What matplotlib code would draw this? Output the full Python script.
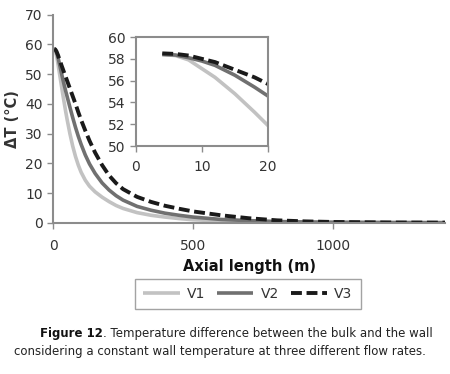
import matplotlib
matplotlib.use("Agg")
import matplotlib.pyplot as plt

# data
axial = [4, 6, 8, 10, 12, 15, 18, 20, 25, 30, 35, 40, 45, 50, 60, 70, 80, 90, 100,
         115, 130, 150, 175, 200, 225, 250, 300, 350, 400, 450, 500, 600, 700, 800,
         900, 1000, 1200, 1400]
v1 = [58.4, 58.3, 57.9, 57.1, 56.3, 54.8, 53.1, 51.9, 49.0, 46.0, 43.0, 40.2, 37.4,
      34.8, 30.0, 25.8, 22.3, 19.4, 17.0, 14.3, 12.3, 10.4, 8.6, 7.1, 5.8, 4.8, 3.4,
      2.5, 1.9, 1.4, 1.0, 0.6, 0.35, 0.2, 0.12, 0.08, 0.03, 0.01]
v2 = [58.4, 58.35, 58.1, 57.8, 57.4, 56.5, 55.4, 54.6, 52.5, 50.3, 48.2, 46.2, 44.3,
      42.5, 38.9, 35.4, 32.1, 29.1, 26.4, 22.8, 19.8, 16.6, 13.4, 11.0, 9.1, 7.6, 5.5,
      4.2, 3.2, 2.5, 1.9, 1.1, 0.7, 0.4, 0.25, 0.15, 0.06, 0.02]
v3 = [58.5, 58.45, 58.3, 58.0, 57.7, 57.0, 56.3, 55.7, 54.4, 53.0, 51.7, 50.4, 49.1,
      47.8, 45.2, 42.6, 40.0, 37.2, 34.6, 31.0, 27.6, 23.6, 19.4, 15.9, 13.3, 11.3, 8.7,
      7.0, 5.7, 4.7, 3.8, 2.5, 1.5, 0.8, 0.45, 0.25, 0.08, 0.03]
series_names = ["V1", "V2", "V3"]

main_xticks = [0, 500, 1000]
main_yticks = [0, 10, 20, 30, 40, 50, 60, 70]
inset_xticks = [0, 10, 20]
inset_yticks = [50, 52, 54, 56, 58, 60]

caption_bold = "Figure 12"
caption_rest = ". Temperature difference between the bulk and the wall"
caption_line2 = "considering a constant wall temperature at three different flow rates."

spine_col = "#8c8c8c"
text_col = "#333333"
styles = [dict(color="#c2c2c2", lw=2.6),
          dict(color="#707070", lw=2.6),
          dict(color="#1a1a1a", lw=2.8, dashes=(2.8, 1.2), dash_capstyle="butt")]

plt.rcParams["font.family"] = "DejaVu Sans"

fig = plt.figure(figsize=(4.5, 3.74), dpi=100)

# main plot
ax = fig.add_axes([0.118, 0.4045, 0.871, 0.556])
lines = []
for vals, st, name in zip([v1, v2, v3], styles, series_names):
    ln, = ax.plot(axial, vals, label=name, solid_capstyle="butt", **st)
    lines.append(ln)
ax.set_xlim(0, 1400)
ax.set_ylim(0, 70)
ax.set_xticks(main_xticks)
ax.set_yticks(main_yticks)
for s in ["top", "right"]:
    ax.spines[s].set_visible(False)
for s in ["left", "bottom"]:
    ax.spines[s].set_color(spine_col)
    ax.spines[s].set_linewidth(1.5)
ax.tick_params(colors=spine_col, labelcolor=text_col, labelsize=10, length=4, width=1)
ax.tick_params(axis="x", pad=8)
ax.set_ylabel("ΔT (°C)", fontsize=10.5, fontweight="bold", color=text_col, labelpad=4)
ax.set_xlabel("Axial length (m)", fontsize=10.5, fontweight="bold", color="#111111", labelpad=4)

# inset
ins = fig.add_axes([0.302, 0.6096, 0.293, 0.2914])
for vals, st in zip([v1, v2, v3], styles):
    ins.plot(axial, vals, solid_capstyle="butt", **st)
ins.set_xlim(0, 20)
ins.set_ylim(50, 60)
ins.set_xticks(inset_xticks)
ins.set_yticks(inset_yticks)
for s in ins.spines.values():
    s.set_color(spine_col)
    s.set_linewidth(1.5)
ins.tick_params(colors=spine_col, labelcolor=text_col, labelsize=10, length=4, width=1)
ins.tick_params(axis="x", pad=6)

# legend
leg = fig.legend(handles=lines, loc="center", bbox_to_anchor=(0.551, 1 - 294 / 374),
                 ncol=3, frameon=True, fancybox=False, fontsize=10, handlelength=2.6,
                 columnspacing=0.9, handletextpad=0.5, borderpad=0.6)
leg.get_frame().set_edgecolor(spine_col)
leg.get_frame().set_linewidth(1.0)
for t in leg.get_texts():
    t.set_color(text_col)

# caption, first line with bold start
cap_size = 8.5
rend = fig.canvas.get_renderer()
y1 = 1 - 333 / 374
tb = fig.text(0, y1, caption_bold, fontsize=cap_size, fontweight="bold", color="#111111",
              va="center", ha="left")
tr = fig.text(0, y1, caption_rest, fontsize=cap_size, color="#222222", va="center", ha="left")
wb = tb.get_window_extent(rend).width
wr = tr.get_window_extent(rend).width
x0 = 236 - (wb + wr) / 2
tb.set_x(x0 / 450)
tr.set_x((x0 + wb) / 450)
fig.text(220 / 450, 1 - 351 / 374, caption_line2, fontsize=cap_size, color="#222222",
         va="center", ha="center")

fig.savefig("out.png", dpi=100)
